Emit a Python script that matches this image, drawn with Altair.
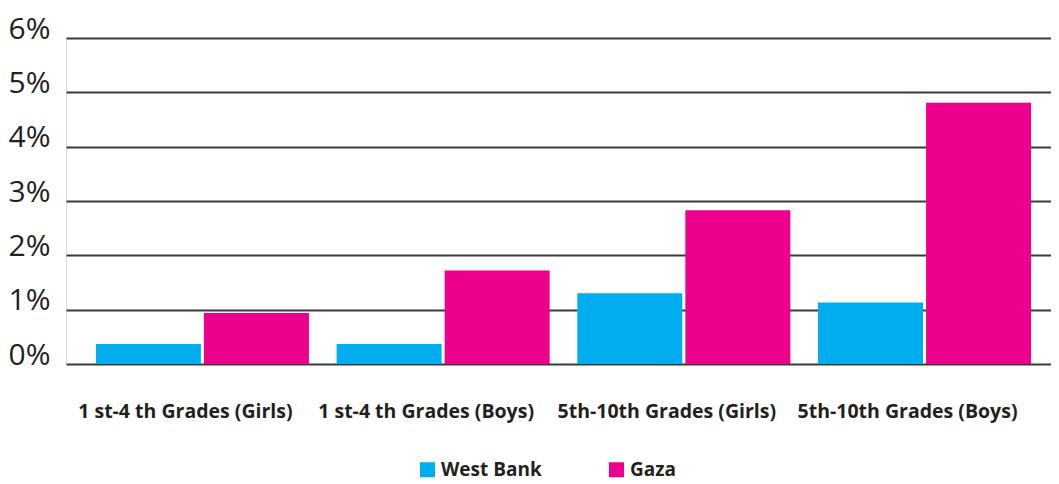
import altair as alt
import pandas as pd

categories = ["1 st-4 th Grades (Girls)", "1 st-4 th Grades (Boys)",
              "5th-10th Grades (Girls)", "5th-10th Grades (Boys)"]
series = ["West Bank", "Gaza"]
west_bank = [0.37, 0.37, 1.30, 1.13]
gaza = [0.94, 1.72, 2.83, 4.81]
colors = ["#00aeef", "#ec008c"]
y_ticks = [0, 1, 2, 3, 4, 5, 6]

rows = []
for c, wb, gz in zip(categories, west_bank, gaza):
    rows.append({"category": c, "region": "West Bank", "value": wb})
    rows.append({"category": c, "region": "Gaza", "value": gz})
df = pd.DataFrame(rows)

FONT = "Open Sans"
TXT = "#231f20"

chart = alt.Chart(df).mark_bar().encode(
    x=alt.X("category:N", sort=categories, title=None,
            scale=alt.Scale(paddingInner=0.115, paddingOuter=0.1035, align=0.6),
            axis=alt.Axis(labelAngle=0, labelFont=FONT, labelFontSize=19.5,
                          labelFontWeight="bold", labelColor=TXT, labelLimit=0,
                          labelOffset=-17,
                          labelPadding=38, domain=False, ticks=False)),
    xOffset=alt.XOffset("region:N", sort=series,
                        scale=alt.Scale(paddingInner=0.028, paddingOuter=0)),
    y=alt.Y("value:Q", title=None,
            scale=alt.Scale(domain=[0, 6], nice=False),
            axis=alt.Axis(values=y_ticks, labelExpr="datum.value + '%'",
                          labelFont=FONT, labelFontSize=30, labelColor=TXT,
                          labelBaseline="alphabetic", labelPadding=16,
                          domain=False, ticks=False, grid=True,
                          gridColor="#3a3a3a", gridWidth=2, gridOpacity=1)),
    color=alt.Color("region:N", sort=series,
                    scale=alt.Scale(domain=series, range=colors),
                    legend=alt.Legend(title=None, orient="none", direction="horizontal",
                                      legendX=352, legendY=422,
                                      symbolType="square", symbolSize=225,
                                      symbolStrokeWidth=0, symbolOpacity=1,
                                      labelFont=FONT, labelFontSize=19,
                                      labelFontWeight="bold", labelColor=TXT,
                                      labelOffset=4, columnPadding=65)),
).properties(
    width=985, height=326,
    autosize=alt.AutoSizeParams(type="none"),
    padding={"left": 58, "top": 30, "right": 0, "bottom": 120},
).configure_view(stroke=None).configure(background="white")

chart.save("out.html", embed_options={"renderer": "svg", "actions": False})
